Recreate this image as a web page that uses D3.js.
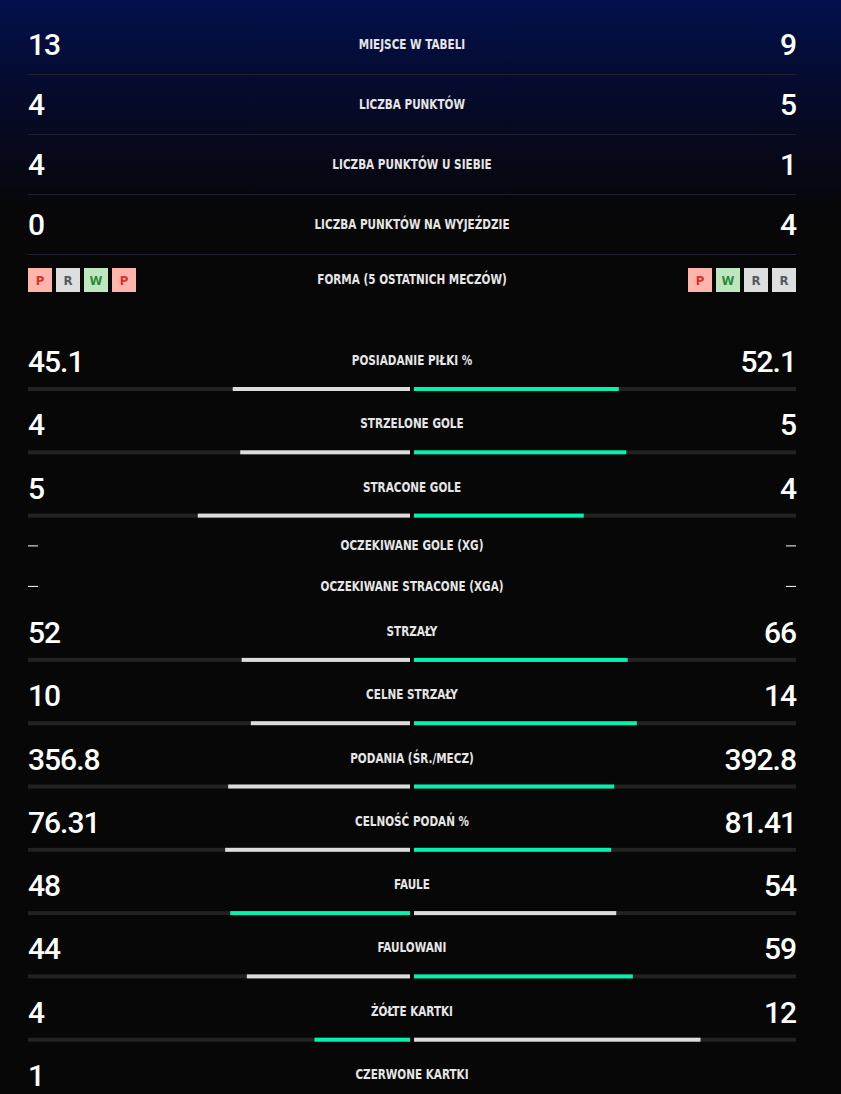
<!DOCTYPE html>
<html>
<head>
<meta charset="utf-8">
<script src="https://cdn.jsdelivr.net/npm/d3@7"></script>
<style>
  html, body { margin: 0; padding: 0; }
  body {
    width: 841px; height: 1094px; overflow: hidden;
    background: linear-gradient(180deg, #03104c 0px, #060a26 110px, #070709 210px, #070707 260px);
  }
  svg { display: block; }
  .num { font-family: Roboto, "Open Sans", sans-serif; font-size: 30px; font-weight: 500; fill: #ffffff; letter-spacing: -1px; }
  .lbl { font-family: "DejaVu Sans Condensed", "DejaVu Sans", sans-serif; font-size: 14px; font-weight: bold; fill: #e6e6e6; }
  .badge { font-family: "DejaVu Sans Condensed", "DejaVu Sans", sans-serif; font-size: 13px; font-weight: bold; }
</style>
</head>
<body>
<svg id="chart" width="841" height="1094"></svg>
<script>
// top table rows
const topLabels = ["MIEJSCE W TABELI", "LICZBA PUNKTÓW", "LICZBA PUNKTÓW U SIEBIE", "LICZBA PUNKTÓW NA WYJEŹDZIE"];
const topHome = [13, 4, 4, 0];
const topAway = [9, 5, 1, 4];

// form (last matches)
const formLabel = "FORMA (5 OSTATNICH MECZÓW)";
const formHome = ["P", "R", "W", "P"];
const formAway = ["P", "W", "R", "R"];

// compared stats
const statLabels = ["POSIADANIE PIŁKI %", "STRZELONE GOLE", "STRACONE GOLE", "OCZEKIWANE GOLE (XG)",
  "OCZEKIWANE STRACONE (XGA)", "STRZAŁY", "CELNE STRZAŁY", "PODANIA (ŚR./MECZ)", "CELNOŚĆ PODAŃ %",
  "FAULE", "FAULOWANI", "ŻÓŁTE KARTKI", "CZERWONE KARTKI"];
const statHome = [45.1, 4, 5, null, null, 52, 10, 356.8, 76.31, 48, 44, 4, 1];
const statAway = [52.1, 5, 4, null, null, 66, 14, 392.8, 81.41, 54, 59, 12, null];
const lowerIsBetter = [false, false, true, false, true, false, false, false, false, true, false, true, true];

var svg = d3.select('#chart');
const L = 28, R = 796, MID = 412;
const trackW = 382;

const badgeStyle = {
  P: {bg: '#ffb4ac', fg: '#d8322c'},
  R: {bg: '#dedede', fg: '#555a60'},
  W: {bg: '#bfe6bf', fg: '#2f8a3a'}
};

// centred, narrowed label
const label = (txt, y) => {
  svg.append('text').attr('class', 'lbl')
    .attr('transform', 'translate(' + MID + ',' + y + ') scale(0.83,1)')
    .attr('text-anchor', 'middle').text(txt);
};

// ---- top rows ----
const topY = d3.scalePoint().domain(d3.range(topLabels.length)).range([44, 224]);

topLabels.forEach((lab, i) => {
  const cy = topY(i);
  svg.append('text').attr('class', 'num').attr('x', L).attr('y', cy + 11).text(topHome[i]);
  svg.append('text').attr('class', 'num').attr('x', R).attr('y', cy + 11)
    .attr('text-anchor', 'end').text(topAway[i]);
  label(lab, cy + 5);
  svg.append('line').attr('x1', L).attr('x2', R).attr('y1', cy + 30.5).attr('y2', cy + 30.5)
    .style('stroke', '#1f2130').style('stroke-width', 1);
});

// ---- form row ----
const formY = 268;
label(formLabel, formY + 16);

const drawBadges = (list, x0) => {
  list.forEach((r, j) => {
    const x = x0 + j * 28;
    svg.append('rect').attr('x', x).attr('y', formY).attr('width', 24).attr('height', 24)
      .attr('fill', badgeStyle[r].bg);
    svg.append('text').attr('class', 'badge').attr('x', x + 12).attr('y', formY + 17)
      .attr('text-anchor', 'middle').attr('fill', badgeStyle[r].fg).text(r);
  });
};
drawBadges(formHome, L);
drawBadges(formAway, R - formAway.length * 28 + 4);

// ---- stat rows ----
let rowTop = 336;
statLabels.forEach((lab, i) => {
  const h = statHome[i], a = statAway[i];
  const hasBar = h !== null && a !== null;
  if (h === null && a === null) {
    // no data: dashes
    const cy = rowTop + 19.5;
    svg.append('line').attr('x1', L).attr('x2', L + 10).attr('y1', cy + 0.5).attr('y2', cy + 0.5)
      .style('stroke', '#ffffff').style('stroke-width', 1);
    svg.append('line').attr('x1', R - 10).attr('x2', R).attr('y1', cy + 0.5).attr('y2', cy + 0.5)
      .style('stroke', '#ffffff').style('stroke-width', 1);
    label(lab, cy + 5);
    rowTop += 40.5;
    return;
  }
  const cy = rowTop + 24;
  if (h !== null) svg.append('text').attr('class', 'num').attr('x', L).attr('y', rowTop + 36).text(h);
  if (a !== null) svg.append('text').attr('class', 'num').attr('x', R).attr('y', rowTop + 36)
    .attr('text-anchor', 'end').text(a);
  label(lab, cy + 5);

  const barY = rowTop + 51;
  // tracks
  svg.append('rect').attr('x', L).attr('y', barY).attr('width', trackW).attr('height', 4).attr('fill', '#222222');
  svg.append('rect').attr('x', MID + 2).attr('y', barY).attr('width', trackW).attr('height', 4).attr('fill', '#222222');
  if (hasBar) {
    const x = d3.scaleLinear().domain([0, h + a]).range([0, trackW]);
    let homeBetter = lowerIsBetter[i] ? h < a : h > a;
    let awayBetter = lowerIsBetter[i] ? a < h : a > h;
    svg.append('rect').attr('x', MID - 2 - x(h)).attr('y', barY).attr('width', x(h)).attr('height', 4)
      .attr('fill', homeBetter ? '#04f2b0' : '#dcdcdc');
    svg.append('rect').attr('x', MID + 2).attr('y', barY).attr('width', x(a)).attr('height', 4)
      .attr('fill', awayBetter ? '#04f2b0' : '#dcdcdc');
  }
  rowTop += 63.3;
});
</script>
</body>
</html>
